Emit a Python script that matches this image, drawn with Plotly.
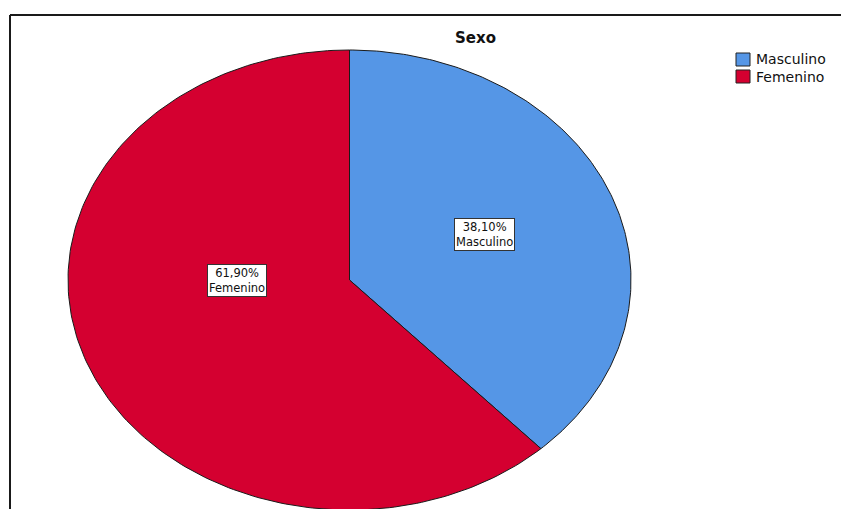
import numpy as np
import plotly.graph_objects as go

# ---- data ----
categories = ["Masculino", "Femenino"]
percentages = [38.10, 61.90]
colors = ["#5596E6", "#D40030"]
title_text = "Sexo"

W, H = 849, 509
OFF = 8  # page body margin in the browser


def px(x):
    return (x - OFF) / W


def py(y):
    return 1 - (y - OFF) / H


# layout geometry (page pixels) -> data ranges so the unit circle renders as the SPSS ellipse
cx, cy, rx, ry = 349.5 - OFF, 280.0 - OFF, 281.5, 230.0
xr = [-cx / rx, (W - cx) / rx]
yr = [-(H - cy) / ry, cy / ry]

fig = go.Figure()

start = 0.0
total = sum(percentages)
label_pos = {"Masculino": (0.481, 0.20), "Femenino": (-0.40, 0.0)}
for cat, val, col in zip(categories, percentages, colors):
    frac = val / total
    th = np.linspace(2 * np.pi * start, 2 * np.pi * (start + frac), 200)
    xs = np.concatenate([[0], np.sin(th), [0]])
    ys = np.concatenate([[0], np.cos(th), [0]])
    fig.add_trace(go.Scatter(x=xs, y=ys, mode="lines", fill="toself",
                             fillcolor=col, line=dict(color="#1a1a1a", width=1),
                             name=cat, showlegend=False, hoverinfo="skip"))
    lx, ly = label_pos[cat]
    fig.add_annotation(x=lx, y=ly, xref="x", yref="y", showarrow=False,
                       text=f"{val:.2f}%".replace(".", ",") + f"<br>{cat}",
                       font=dict(family="DejaVu Sans", size=11.5, color="#111"),
                       bgcolor="white", bordercolor="#333", borderwidth=1, borderpad=1)
    start += frac

# frame
fig.add_shape(type="line", xref="paper", yref="paper",
              x0=px(10), x1=1.02, y0=py(15), y1=py(15),
              line=dict(color="#1a1a1a", width=2))
fig.add_shape(type="line", xref="paper", yref="paper",
              x0=px(10), x1=px(10), y0=-0.02, y1=py(15),
              line=dict(color="#1a1a1a", width=2))

# title
fig.add_annotation(x=px(475), y=py(38), xref="paper", yref="paper", showarrow=False,
                   text=f"<b>{title_text}</b>", xanchor="center", yanchor="middle",
                   font=dict(family="DejaVu Sans", size=15, color="#111"))

# legend
for i, (cat, col) in enumerate(zip(categories, colors)):
    top = 53 + i * 17
    fig.add_shape(type="rect", xref="paper", yref="paper",
                  x0=px(736), x1=px(750), y0=py(top + 13), y1=py(top),
                  fillcolor=col, line=dict(color="#222", width=1))
    fig.add_annotation(x=px(754), y=py(top + 6.5), xref="paper", yref="paper",
                       showarrow=False, xanchor="left", yanchor="middle", text=cat,
                       font=dict(family="DejaVu Sans", size=14, color="#111"))

fig.update_layout(width=W, height=H, margin=dict(l=0, r=0, t=0, b=0),
                  paper_bgcolor="white", plot_bgcolor="white", showlegend=False,
                  xaxis=dict(range=xr, visible=False, fixedrange=True),
                  yaxis=dict(range=yr, visible=False, fixedrange=True))

fig.write_html("out.html")
